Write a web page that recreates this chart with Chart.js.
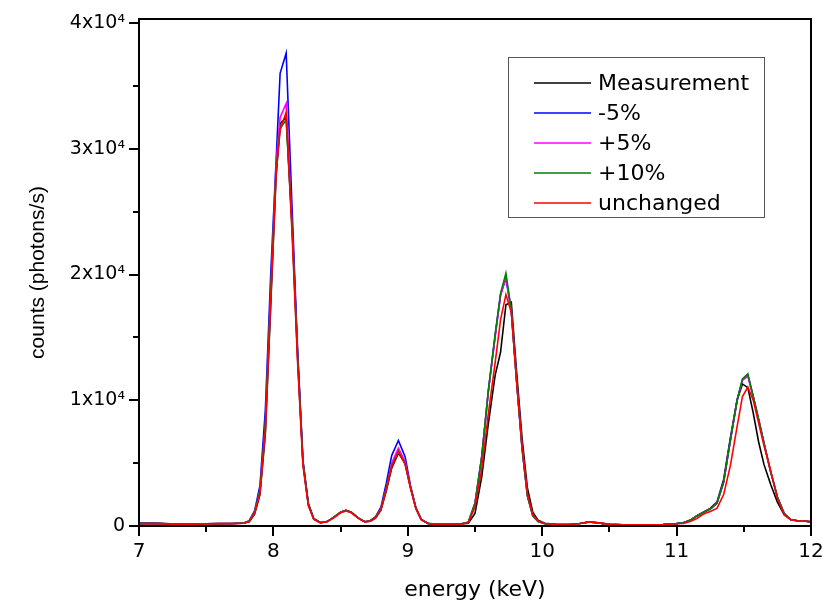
<!DOCTYPE html>
<html lang="en">
<head>
<meta charset="utf-8"/>
<title>Spectrum comparison</title>
<script src="https://cdn.jsdelivr.net/npm/chart.js"></script>
<style>
  html, body { margin: 0; padding: 0; background: #fff; }
</style>
</head>
<body>
<canvas id="spectrum" width="823" height="603"></canvas>
<script>
// energy grid (keV), shared by all series
const energies = [
  7.0, 7.1, 7.2, 7.3, 7.4, 7.5, 7.6, 7.7, 7.78,
  7.82, 7.86, 7.9, 7.94, 7.98, 8.02, 8.05, 8.095, 8.14, 8.18, 8.22, 8.26, 8.3, 8.35, 8.4,
  8.45, 8.5, 8.54, 8.58, 8.63, 8.68, 8.72,
  8.76, 8.8, 8.84, 8.88, 8.93, 8.98, 9.02, 9.06, 9.1, 9.15,
  9.2, 9.3, 9.4, 9.45,
  9.5, 9.55, 9.6, 9.65, 9.69, 9.73, 9.77, 9.81, 9.85, 9.89, 9.93, 9.97, 10.02,
  10.1, 10.2, 10.28, 10.35, 10.42, 10.5, 10.6, 10.7, 10.8, 10.9, 11.0,
  11.05, 11.1, 11.15, 11.2, 11.25, 11.3, 11.35, 11.4, 11.45, 11.49, 11.53, 11.57, 11.61,
  11.65, 11.7, 11.75, 11.8, 11.85, 11.9, 11.95, 12.0
];

const measurement = [
  230, 240, 190, 140, 140, 160, 180, 200, 240,
  330, 950, 2500, 7300, 17500, 27800, 32000, 32500, 23800, 13800, 5200, 1800, 600, 280, 350,
  680, 1100, 1250, 1080, 640, 340, 380,
  620, 1250, 2800, 4600, 5800, 5000, 3100, 1450, 520, 210,
  150, 150, 160, 220,
  1000, 3900, 8200, 12000, 13800, 17600, 17800, 12200, 7000, 3000, 1100, 450, 220,
  140, 120, 200, 330, 250, 130, 100, 100, 100, 110, 190,
  260, 450, 800, 1100, 1400, 1900, 3700, 7000, 10000, 11300, 11000, 9000, 6700,
  4900, 3300, 1900, 900, 500, 420, 400, 330
];

const minus5 = [
  190, 210, 170, 130, 150, 170, 190, 200, 240,
  420, 1200, 3200, 9200, 20000, 29000, 36000, 37600, 25000, 14000, 5100, 1700, 560, 260, 350,
  700, 1100, 1250, 1100, 650, 340, 420,
  750, 1500, 3400, 5600, 6800, 5500, 3200, 1450, 520, 200,
  150, 150, 180, 300,
  1800, 5500, 10800, 15200, 18400, 19700, 17100, 11500, 6200, 2400, 800, 350, 180,
  130, 120, 200, 320, 240, 130, 100, 100, 100, 120, 200,
  260, 450, 800, 1100, 1350, 1800, 3500, 6800, 10000, 11600, 12000, 10300, 8500,
  6600, 4300, 2300, 1000, 500, 420, 400, 330
];

const plus5 = [
  190, 210, 170, 130, 150, 170, 190, 200, 230,
  380, 1100, 2800, 8000, 18500, 28800, 32500, 33600, 23600, 13400, 5000, 1700, 550, 260, 350,
  700, 1100, 1250, 1100, 650, 340, 400,
  700, 1350, 3000, 5000, 6200, 5100, 3100, 1400, 500, 200,
  150, 150, 180, 300,
  1800, 5500, 10800, 15000, 18300, 19800, 17150, 11500, 6200, 2400, 800, 350, 180,
  130, 120, 200, 320, 240, 130, 100, 100, 100, 120, 200,
  260, 450, 800, 1100, 1350, 1800, 3500, 6800, 10000, 11600, 11900, 10300, 8500,
  6600, 4300, 2300, 1000, 500, 420, 400, 330
];

const plus10 = [
  190, 210, 170, 130, 150, 170, 190, 200, 230,
  380, 1100, 2800, 8000, 18500, 28300, 31600, 32300, 23500, 13400, 5000, 1700, 550, 260, 350,
  700, 1100, 1250, 1100, 650, 340, 400,
  700, 1350, 3000, 4800, 5950, 4950, 3050, 1400, 500, 200,
  150, 150, 180, 300,
  1800, 5500, 10800, 15200, 18500, 20100, 17200, 11500, 6200, 2400, 800, 350, 180,
  130, 120, 200, 320, 240, 130, 100, 100, 100, 120, 200,
  260, 450, 800, 1100, 1350, 1800, 3500, 6800, 10000, 11700, 12100, 10300, 8500,
  6600, 4300, 2300, 1000, 500, 420, 400, 330
];

const unchanged = [
  180, 200, 170, 130, 140, 170, 190, 190, 220,
  350, 1000, 2600, 7600, 18000, 28000, 31500, 32900, 23000, 13000, 4800, 1600, 550, 250, 330,
  650, 1050, 1200, 1050, 620, 330, 380,
  650, 1300, 2900, 4700, 5900, 4900, 3000, 1400, 500, 200,
  150, 150, 170, 250,
  1500, 4500, 9000, 13000, 16400, 18400, 17000, 11400, 6400, 2600, 900, 400, 200,
  130, 120, 200, 330, 250, 130, 100, 100, 100, 110, 180,
  200, 350, 600, 950, 1150, 1400, 2500, 4800, 7900, 10300, 11050, 10000, 8200,
  6400, 4400, 2200, 900, 500, 420, 400, 330
];

const seriesLabels = ['Measurement', '-5%', '+5%', '+10%', 'unchanged'];
const seriesColors = ['#000000', '#0000ff', '#ff00ff', '#008000', '#ff0000'];

const xTicks = [7, 8, 9, 10, 11, 12];
const yTicks = [0, 10000, 20000, 30000, 40000];
const yTickLabels = ['0', '1x10\u2074', '2x10\u2074', '3x10\u2074', '4x10\u2074'];

const seriesValues = [measurement, minus5, plus5, plus10, unchanged];

function toPoints(vals) {
  return energies.map((e, i) => ({ x: e, y: vals[i] }));
}

// keep the plot box where the layout padding puts it
function noLabelPadding(s) {
  s.paddingTop = 0;
  s.paddingBottom = 0;
  s.paddingLeft = 0;
  s.paddingRight = 0;
}

// frame with outward major/minor ticks, Origin style
const framePlugin = {
  id: 'frame',
  afterDatasetsDraw(chart) {
    const { ctx, chartArea: a, scales } = chart;
    ctx.save();
    ctx.strokeStyle = '#000';
    ctx.lineWidth = 2;
    ctx.strokeRect(a.left, a.top, a.right - a.left, a.bottom - a.top);
    ctx.beginPath();
    for (let v = 7; v <= 12.001; v += 0.5) {
      const x = Math.round(scales.x.getPixelForValue(v));
      const len = Math.abs(v - Math.round(v)) < 0.01 ? 10 : 6;
      ctx.moveTo(x, a.bottom);
      ctx.lineTo(x, a.bottom + len);
    }
    for (let v = 0; v <= 40000; v += 5000) {
      const y = Math.round(scales.y.getPixelForValue(v));
      const len = v % 10000 === 0 ? 10 : 6;
      ctx.moveTo(a.left, y);
      ctx.lineTo(a.left - len, y);
    }
    ctx.stroke();
    ctx.restore();
  }
};

// legend box inside the plot
const boxLegend = {
  id: 'boxLegend',
  afterDraw(chart) {
    const ctx = chart.ctx;
    ctx.save();
    ctx.strokeStyle = '#555';
    ctx.lineWidth = 1;
    ctx.strokeRect(508.5, 57.5, 256, 160);
    ctx.font = '22px "DejaVu Sans"';
    ctx.textBaseline = 'middle';
    ctx.fillStyle = '#000';
    chart.data.datasets.forEach((ds, i) => {
      const y = 83 + i * 30;
      ctx.strokeStyle = ds.borderColor;
      ctx.lineWidth = 1.5;
      ctx.beginPath();
      ctx.moveTo(534, y);
      ctx.lineTo(591, y);
      ctx.stroke();
      ctx.fillText(ds.label, 598, y + 1);
    });
    ctx.restore();
  }
};

const ctx = document.getElementById('spectrum').getContext('2d');
const drawOrder = [5, 4, 3, 2, 1];
new Chart(ctx, {
  type: 'line',
  data: {
    datasets: seriesValues.map((vals, i) => ({
      label: seriesLabels[i],
      data: toPoints(vals),
      borderColor: seriesColors[i],
      borderWidth: 1.6,
      pointRadius: 0,
      tension: 0,
      fill: false,
      order: drawOrder[i]
    }))
  },
  options: {
    responsive: false,
    animation: false,
    layout: { padding: { top: 19, right: 12, left: 0, bottom: 0 } },
    plugins: { legend: { display: false }, tooltip: { enabled: false } },
    scales: {
      x: {
        type: 'linear',
        min: 7,
        max: 12,
        afterBuildTicks: (s) => { s.ticks = xTicks.map(v => ({ value: v })); },
        afterFit: (s) => { s.height = 77; noLabelPadding(s); },
        grid: { display: false, drawTicks: false },
        border: { display: false },
        ticks: {
          color: '#000',
          padding: 14,
          maxRotation: 0,
          font: { family: 'DejaVu Sans', size: 20 },
          callback: (v) => String(v)
        },
        title: {
          display: true,
          text: 'energy (keV)',
          color: '#000',
          font: { family: 'DejaVu Sans', size: 22 },
          padding: { top: 0, bottom: 0 }
        }
      },
      y: {
        min: 0,
        max: 40320,
        afterBuildTicks: (s) => { s.ticks = yTicks.map(v => ({ value: v })); },
        afterFit: (s) => { s.width = 139; noLabelPadding(s); },
        grid: { display: false, drawTicks: false },
        border: { display: false },
        ticks: {
          color: '#000',
          padding: 14,
          font: { family: 'DejaVu Sans', size: 19 },
          callback: (v) => yTickLabels[yTicks.indexOf(v)]
        },
        title: {
          display: true,
          text: 'counts (photons/s)',
          color: '#000',
          font: { family: 'Liberation Sans', size: 21 },
          padding: { top: 26, bottom: 0 }
        }
      }
    }
  },
  plugins: [framePlugin, boxLegend]
});
</script>
</body>
</html>
